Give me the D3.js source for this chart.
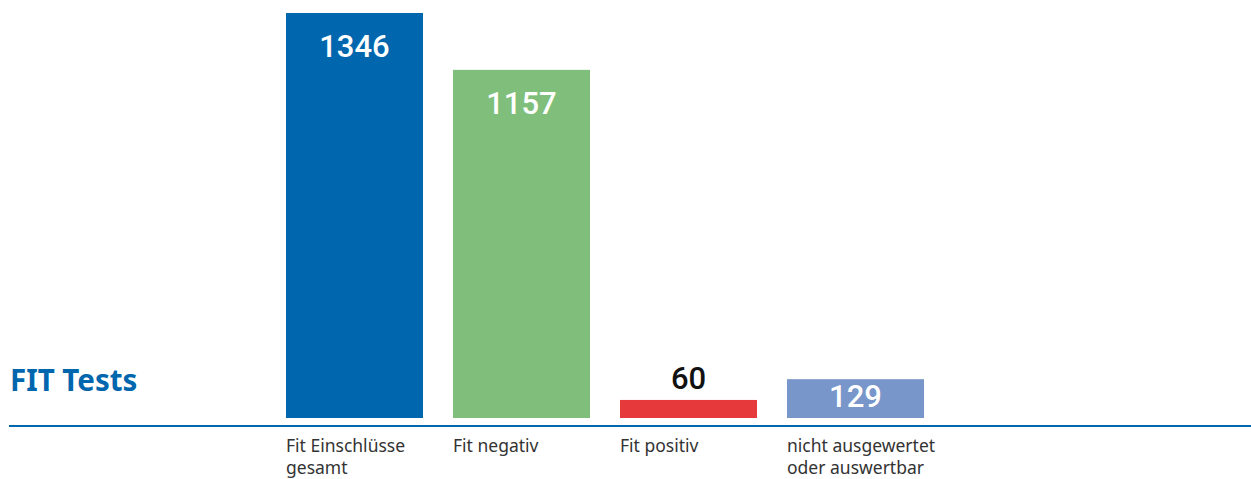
<!DOCTYPE html>
<html>
<head>
<meta charset="utf-8">
<script src="https://cdnjs.cloudflare.com/ajax/libs/d3/7.8.5/d3.min.js"></script>
<style>
  body { margin: 0; background: #fff; }
  svg { display: block; }
</style>
</head>
<body>
<div id="chart"></div>
<script>
var categories = ["Fit Einschlüsse gesamt", "Fit negativ", "Fit positiv", "nicht ausgewertet oder auswertbar"];
var labelLines = [["Fit Einschlüsse", "gesamt"], ["Fit negativ"], ["Fit positiv"], ["nicht ausgewertet", "oder auswertbar"]];
var values = [1346, 1157, 60, 129];
var colors = ["#0066ae", "#7fbf7b", "#e5393b", "#7896ca"];
var title = "FIT Tests";

var width = 1251, height = 479;
var baseY = 418;

var svg = d3.select("#chart")
            .append("svg")
            .attr("width", width)
            .attr("height", height);

var x = d3.scaleBand()
          .domain(categories)
          .range([286, 924])
          .paddingInner(30 / 167)
          .paddingOuter(0);

var y = d3.scaleLinear()
          .domain([0, 1346])
          .range([baseY, 13]);

// bars
svg.selectAll(".bar")
   .data(values)
   .enter()
   .append("rect")
   .attr("class", "bar")
   .attr("x", function(d, i) { return x(categories[i]); })
   .attr("y", function(d) { return y(d); })
   .attr("width", x.bandwidth())
   .attr("height", function(d) { return baseY - y(d); })
   .attr("fill", function(d, i) { return colors[i]; });

// value labels
svg.selectAll(".val")
   .data(values)
   .enter()
   .append("text")
   .attr("class", "val")
   .attr("text-anchor", "middle")
   .attr("x", function(d, i) { return x(categories[i]) + x.bandwidth() / 2; })
   .attr("y", function(d) {
     var h = baseY - y(d);
     if (h >= 60) { return y(d) + 44; }
     if (h >= 30) { return baseY - 11; }
     return y(d) - 11;
   })
   .attr("fill", function(d) { return (baseY - y(d)) >= 30 ? "#fff" : "#111"; })
   .attr("font-family", "Roboto, 'Noto Sans', sans-serif")
   .attr("font-weight", 500)
   .attr("font-size", "31px")
   .text(function(d) { return d; });

// baseline rule
svg.append("line")
   .attr("x1", 9)
   .attr("x2", width)
   .attr("y1", 426)
   .attr("y2", 426)
   .attr("stroke", "#0066ae")
   .attr("stroke-width", 2);

// category labels
svg.selectAll(".cat")
   .data(labelLines)
   .enter()
   .append("text")
   .attr("class", "cat")
   .attr("x", function(d, i) { return x(categories[i]); })
   .attr("y", 452)
   .attr("fill", "#333")
   .attr("font-family", "'Noto Sans', sans-serif")
   .attr("font-size", "17.5px")
   .each(function(d) {
     var t = d3.select(this);
     d.forEach(function(line, j) {
       t.append("tspan")
        .attr("x", t.attr("x"))
        .attr("dy", j == 0 ? 0 : 22)
        .text(line);
     });
   });

// title
svg.append("text")
   .attr("x", 10)
   .attr("y", 391)
   .attr("fill", "#0066ae")
   .attr("font-family", "'Noto Sans', sans-serif")
   .attr("font-weight", "bold")
   .attr("font-size", "29.5px")
   .text(title);
</script>
</body>
</html>
